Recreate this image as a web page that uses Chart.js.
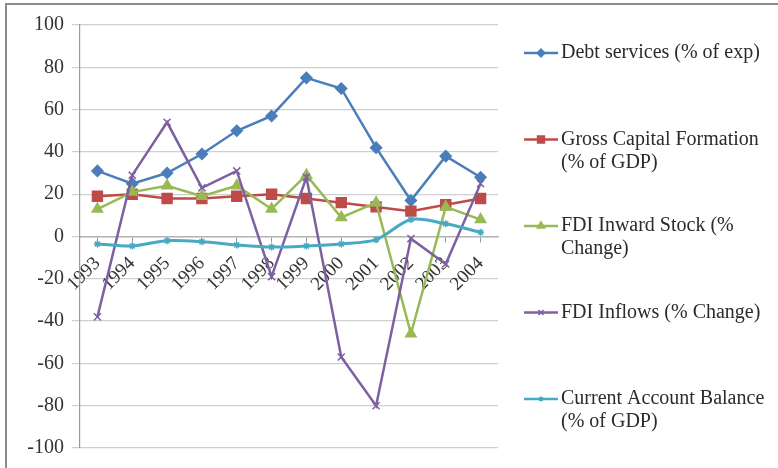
<!DOCTYPE html>
<html>
<head>
<meta charset="utf-8">
<title>Debt services, capital formation and FDI 1993-2004</title>
<script src="https://cdn.jsdelivr.net/npm/chart.js@4/dist/chart.umd.min.js"></script>
<style>
    html, body { margin: 0; padding: 0; background: #fff; }
    #wrap { position: relative; width: 778px; height: 468px; overflow: hidden; }
    #chart { position: absolute; left: 0; top: 0; }
    #frame {
        position: absolute; left: 5px; top: 3px; right: -4px; bottom: -4px;
        border-top: 2px solid #8c8c8c; border-left: 2px solid #8c8c8c;
        pointer-events: none;
    }
</style>
</head>
<body>
<div id="wrap">
    <canvas id="chart" width="778" height="468"></canvas>
    <div id="frame"></div>
</div>
<script>
// Data
const years = ['1993', '1994', '1995', '1996', '1997', '1998', '1999', '2000', '2001', '2002', '2003', '2004'];
const debtServices = [31, 25, 30, 39, 50, 57, 75, 70, 42, 17, 38, 28];
const grossCapital = [19, 20, 18, 18, 19, 20, 18, 16, 14, 12, 15, 18];
const fdiStock = [13, 21, 24, 19, 24, 13, 29, 9, 16, -46, 14, 8];
const fdiInflows = [-38, 29, 54, 23, 31, -19, 28, -57, -80, -1, -13, 25];
const currentAccount = [-3.5, -4.5, -2, -2.5, -4, -5, -4.5, -3.5, -1.5, 8, 6, 2];

const yTicks = { min: -100, max: 100, step: 20 };

const legendLabels = [
    ['Debt services (% of exp)'],
    ['Gross Capital Formation', '(% of GDP)'],
    ['FDI Inward Stock (%', 'Change)'],
    ['FDI Inflows (% Change)'],
    ['Current Account Balance', '(% of GDP)']
];

const FONT = '"Liberation Serif", "Times New Roman", serif';

// Legend to the right of the plot, with wrapped labels like the Excel original
const sideLegend = {
    id: 'sideLegend',
    afterDraw(chart) {
        const ctx = chart.ctx;
        const area = chart.chartArea;
        const lineX = area.right + 26;
        const textX = lineX + 37;
        ctx.save();
        ctx.font = '20px ' + FONT;
        ctx.textBaseline = 'middle';
        chart.data.datasets.forEach((ds, i) => {
            const y = area.top + 28 + i * 86.5;
            ctx.strokeStyle = ds.borderColor;
            ctx.lineWidth = 2.5;
            ctx.beginPath();
            ctx.moveTo(lineX, y);
            ctx.lineTo(lineX + 34, y);
            ctx.stroke();
            ctx.fillStyle = ds.pointBackgroundColor;
            ctx.strokeStyle = ds.pointBorderColor;
            ctx.lineWidth = 1.5;
            Chart.helpers.drawPoint(ctx, {
                pointStyle: ds.pointStyle,
                radius: ds.pointRadius * 0.7,
                rotation: 0,
                borderWidth: 1.5
            }, lineX + 17, y);
            ctx.fillStyle = '#2b2b2b';
            legendLabels[i].forEach((line, j) => {
                ctx.fillText(line, textX, y + j * 23);
            });
        });
        ctx.restore();
    }
};

function series(label, data, color, style, radius, order, extra) {
    return Object.assign({
        label: label,
        data: data,
        borderColor: color,
        backgroundColor: color,
        pointBackgroundColor: color,
        pointBorderColor: color,
        pointStyle: style,
        pointRadius: radius,
        pointBorderWidth: 1.5,
        borderWidth: 2.5,
        tension: 0,
        order: order
    }, extra || {});
}

const ctx = document.getElementById('chart').getContext('2d');

new Chart(ctx, {
    type: 'line',
    data: {
        labels: years,
        datasets: [
            series('Debt services (% of exp)', debtServices, '#4a7ebb', 'rectRot', 5.5, 5),
            series('Gross Capital Formation (% of GDP)', grossCapital, '#be4b48', 'rect', 7, 4),
            series('FDI Inward Stock (% Change)', fdiStock, '#98b954', 'triangle', 6, 3),
            series('FDI Inflows (% Change)', fdiInflows, '#7d60a0', 'crossRot', 5, 2),
            series('Current Account Balance (% of GDP)', currentAccount, '#46aac5', 'star', 3.5, 1,
                { tension: 0.3, borderWidth: 3 })
        ]
    },
    options: {
        responsive: false,
        animation: false,
        layout: {
            padding: { left: 0, right: 280, top: 25, bottom: 19 }
        },
        plugins: {
            legend: { display: false },
            tooltip: { enabled: false }
        },
        scales: {
            x: {
                type: 'category',
                position: { y: 0 },
                offset: true,
                grid: {
                    display: true,
                    drawOnChartArea: false,
                    drawTicks: true,
                    tickLength: 5,
                    color: '#9a9a9a'
                },
                border: { display: true, color: '#b5b5b5', width: 1.5 },
                ticks: {
                    autoSkip: false,
                    minRotation: 45,
                    maxRotation: 45,
                    padding: 11,
                    color: '#333',
                    font: { family: FONT, size: 19 }
                }
            },
            y: {
                min: yTicks.min,
                max: yTicks.max,
                afterFit(scale) { scale.width = 80; },
                grid: {
                    color: '#cfcfcf',
                    lineWidth: 1.2,
                    tickLength: 8
                },
                border: { display: true, color: '#9a9a9a', width: 1.2 },
                ticks: {
                    stepSize: yTicks.step,
                    padding: 8,
                    color: '#333',
                    font: { family: FONT, size: 20 }
                }
            }
        }
    },
    plugins: [sideLegend]
});
</script>
</body>
</html>
